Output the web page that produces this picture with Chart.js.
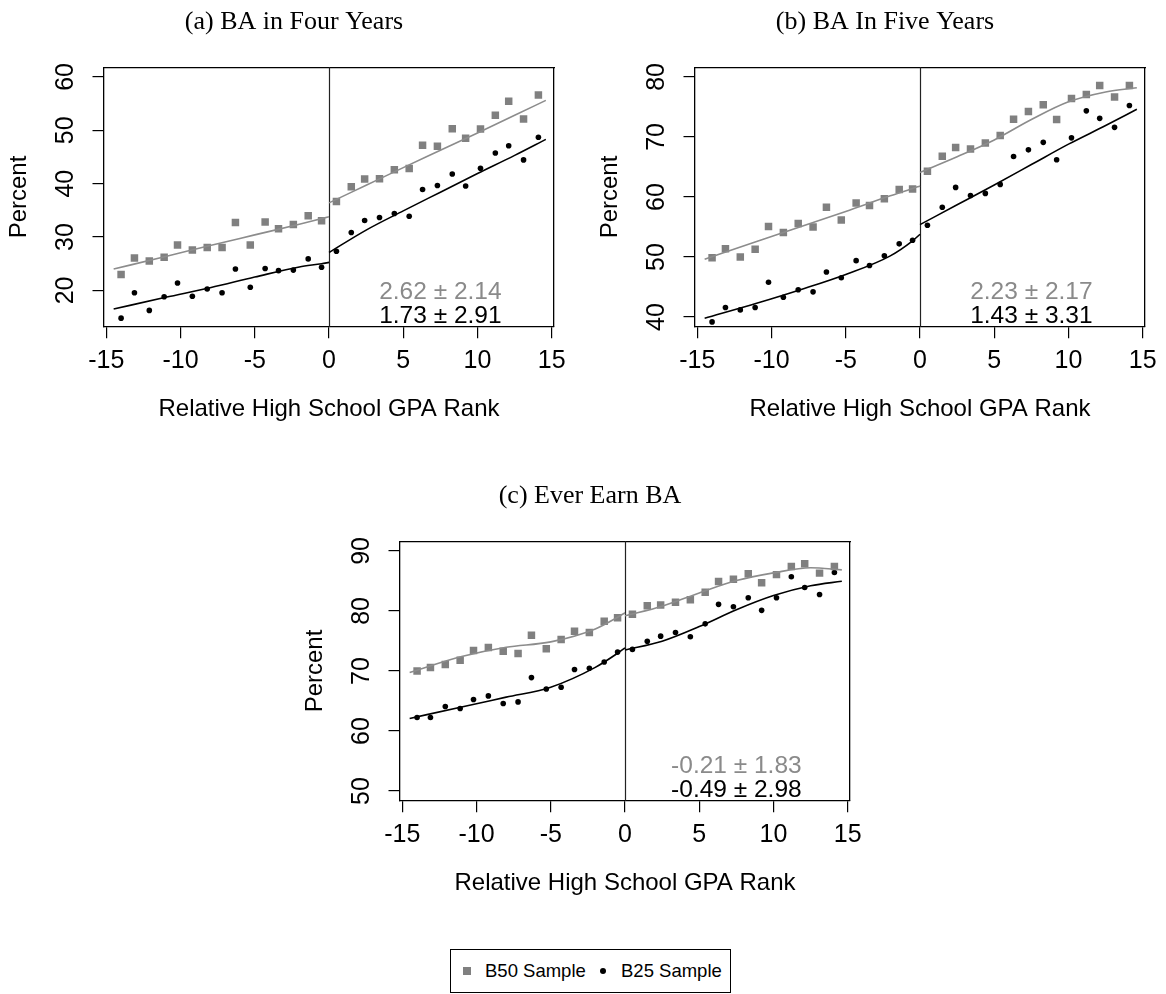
<!DOCTYPE html>
<html>
<head>
<meta charset="utf-8">
<title>BA completion by relative GPA rank</title>
<script src="https://cdn.jsdelivr.net/npm/chart.js@4.4.1/dist/chart.umd.min.js"></script>
<style>
  html, body { margin: 0; padding: 0; background: #fff; overflow: hidden; }
  body { width: 1166px; height: 994px; position: relative; }
  canvas { position: absolute; }
  #panelA { left: 0; top: 0; }
  #panelB { left: 591px; top: 0; }
  #panelC { left: 296px; top: 474px; }
  #legend {
    position: absolute; left: 450px; top: 949px; width: 281px; height: 44px;
    border: 1.3px solid #000; box-sizing: border-box;
    font: 18.5px 'Liberation Sans', Arial, sans-serif; color: #000;
  }
  #legend span { position: absolute; }
  #legend .txt { top: 0; line-height: 42px; white-space: nowrap; }
  #legend .sq { left: 12px; top: 17px; width: 8px; height: 8px; background: #808080; }
  #legend .dot { left: 149px; top: 18px; width: 6px; height: 6px; border-radius: 50%; background: #000; }
</style>
</head>
<body>
<canvas id="panelA" width="588" height="430"></canvas>
<canvas id="panelB" width="588" height="430"></canvas>
<canvas id="panelC" width="588" height="430"></canvas>
<div id="legend">
  <span class="sq"></span><span class="txt" style="left:34px">B50 Sample</span>
  <span class="dot"></span><span class="txt" style="left:170px">B25 Sample</span>
</div>
<script>
// ---- data ----
const binX = [-14.0, -13.1, -12.1, -11.1, -10.2, -9.2, -8.2, -7.2, -6.3, -5.3, -4.3, -3.4, -2.4, -1.4, -0.5,
              0.5, 1.5, 2.4, 3.4, 4.4, 5.4, 6.3, 7.3, 8.3, 9.2, 10.2, 11.2, 12.1, 13.1, 14.1];
const xTicks = [-15, -10, -5, 0, 5, 10, 15];
const fitLeftX = [-14.5, -11, -8, -5, -2, -0.5, 0];
const fitRightX = [0, 2.5, 5, 7.5, 10, 12.5, 14.6];

// (a) BA in four years
const fourYearTicks = [20, 30, 40, 50, 60];
const fourYearB50 = [23.0, 26.05, 25.5, 26.2, 28.5, 27.55, 28.05, 28.05, 32.7, 28.5, 32.8, 31.55, 32.35, 34.0, 33.05,
                     36.65, 39.4, 40.85, 40.9, 42.6, 42.85, 47.2, 47.0, 50.3, 48.5, 50.25, 52.8, 55.45, 52.1, 56.6];
const fourYearB25 = [14.8, 19.55, 16.25, 18.8, 21.4, 18.9, 20.25, 19.55, 24.0, 20.6, 24.1, 23.7, 23.8, 25.9, 24.35,
                     27.35, 30.85, 33.1, 33.65, 34.4, 33.9, 38.9, 39.65, 41.8, 39.55, 42.9, 45.75, 47.1, 44.45, 48.7];
const fourYearFitB50Left = [24.0, 26.35, 28.4, 30.4, 32.4, 33.45, 33.8];
const fourYearFitB50Right = [36.4, 39.7, 43.0, 46.25, 49.5, 52.8, 55.6];
const fourYearFitB25Left = [16.5, 18.7, 20.5, 22.5, 24.4, 25.0, 25.25];
const fourYearFitB25Right = [27.1, 31.3, 34.9, 38.4, 41.9, 45.3, 48.3];
const fourYearEstimates = ['2.62 ± 2.14', '1.73 ± 2.91'];

// (b) BA in five years
const fiveYearTicks = [40, 50, 60, 70, 80];
const fiveYearB50 = [49.9, 51.4, 50.0, 51.3, 55.1, 54.1, 55.6, 55.0, 58.3, 56.15, 59.0, 58.6, 59.7, 61.25, 61.35,
                     64.3, 66.8, 68.25, 68.0, 69.0, 70.25, 72.95, 74.25, 75.35, 72.9, 76.4, 77.05, 78.55, 76.65, 78.55];
const fiveYearB25 = [39.2, 41.6, 41.2, 41.6, 45.8, 43.3, 44.55, 44.2, 47.5, 46.55, 49.4, 48.6, 50.2, 52.2, 52.8,
                     55.3, 58.3, 61.6, 60.25, 60.6, 62.1, 66.75, 67.85, 69.1, 66.2, 69.85, 74.35, 73.1, 71.6, 75.25];
const fiveYearFitB50Left = [49.65, 52.6, 55.1, 57.6, 60.2, 61.4, 61.85];
const fiveYearFitB50Right = [64.1, 66.7, 69.5, 72.9, 75.85, 77.5, 78.2];
const fiveYearFitB25Left = [39.8, 42.3, 44.6, 47.1, 50.2, 52.7, 53.8];
const fiveYearFitB25Right = [55.4, 58.7, 62.0, 65.4, 68.8, 71.9, 74.6];
const fiveYearEstimates = ['2.23 ± 2.17', '1.43 ± 3.31'];

// (c) ever earn BA
const everTicks = [50, 60, 70, 80, 90];
const everB50 = [70.0, 70.6, 71.1, 71.8, 73.4, 73.9, 73.3, 72.9, 75.95, 73.7, 75.25, 76.6, 76.4, 78.3, 78.85,
                 79.45, 80.85, 81.0, 81.45, 81.85, 83.1, 84.9, 85.3, 86.2, 84.7, 86.05, 87.4, 87.85, 86.3, 87.4];
const everB25 = [62.25, 62.25, 64.1, 63.75, 65.25, 65.85, 64.6, 64.85, 68.9, 67.0, 67.3, 70.25, 70.45, 71.5, 73.15,
                 73.6, 74.95, 75.8, 76.4, 75.7, 77.85, 81.1, 80.7, 82.2, 80.1, 82.2, 85.7, 83.9, 82.75, 86.4];
const everFitB50Left = [69.75, 72.4, 73.96, 74.85, 77.0, 78.95, 79.7];
const everFitB50Right = [79.2, 80.8, 83.0, 85.06, 86.34, 87.2, 86.84];
const everFitB25Left = [62.1, 64.0, 65.65, 67.3, 70.6, 72.95, 73.85];
const everFitB25Right = [73.5, 74.96, 77.4, 80.2, 82.56, 84.2, 84.95];
const everEstimates = ['-0.21 ± 1.83', '-0.49 ± 2.98'];

// ---- styling ----
const GRAY = '#808080';
const GRAY_LINE = '#8c8c8c';
const GRAY_TEXT = '#8a8a8a';
const SANS = "'Liberation Sans', Arial, sans-serif";
const SERIF = "'Liberation Serif', 'Times New Roman', serif";

Chart.defaults.font.family = SANS;
Chart.defaults.color = '#000';

const pts = (xs, ys) => xs.map((x, i) => ({ x, y: ys[i] }));

// vertical line at the cutoff
const cutoffLine = {
  id: 'cutoffLine',
  beforeDatasetsDraw(chart) {
    const { ctx, chartArea, scales } = chart;
    const x = Math.round(scales.x.getPixelForValue(0)) + 0.5;
    ctx.save();
    ctx.strokeStyle = '#222';
    ctx.lineWidth = 1.2;
    ctx.beginPath();
    ctx.moveTo(x, chartArea.top);
    ctx.lineTo(x, chartArea.bottom);
    ctx.stroke();
    ctx.restore();
  },
};

// discontinuity estimates in the lower right corner
const estimateText = {
  id: 'estimateText',
  afterDraw(chart, args, opts) {
    const { ctx, chartArea, scales } = chart;
    const x = scales.x.getPixelForValue(opts.at);
    ctx.save();
    ctx.font = `24.5px ${SANS}`;
    ctx.textAlign = 'center';
    ctx.textBaseline = 'alphabetic';
    ctx.fillStyle = GRAY_TEXT;
    ctx.fillText(opts.lines[0], x, chartArea.bottom - 27.6);
    ctx.fillStyle = '#000';
    ctx.fillText(opts.lines[1], x, chartArea.bottom - 3.5);
    ctx.restore();
  },
};

function fitLine(xs, ys, color) {
  return {
    data: pts(xs, ys),
    showLine: true,
    borderColor: color,
    borderWidth: 1.6,
    pointRadius: 0,
    cubicInterpolationMode: 'monotone',
    fill: false,
  };
}

const axisLine = { display: true, color: '#000', width: 1.3 };
const tickMarks = { drawOnChartArea: false, drawTicks: true, tickLength: 11.5, color: '#000', lineWidth: 1.2 };

function makePanel(id, title, yMin, yMax, yTicks, b50, b25, fits, estimates) {
  return new Chart(document.getElementById(id), {
    type: 'scatter',
    data: {
      datasets: [
        fitLine(fitLeftX, fits[0], GRAY_LINE),
        fitLine(fitRightX, fits[1], GRAY_LINE),
        fitLine(fitLeftX, fits[2], '#000'),
        fitLine(fitRightX, fits[3], '#000'),
        { label: 'B50 Sample', data: pts(binX, b50), pointStyle: 'rect', pointRadius: 5.3,
          backgroundColor: GRAY, borderWidth: 0 },
        { label: 'B25 Sample', data: pts(binX, b25), pointStyle: 'circle', pointRadius: 2.8,
          backgroundColor: '#000', borderWidth: 0 },
      ],
    },
    options: {
      responsive: false,
      devicePixelRatio: 1,
      animation: false,
      layout: { padding: 0 },
      scales: {
        x: {
          type: 'linear', position: 'bottom', min: -15.15, max: 15.15,
          afterBuildTicks: (s) => { s.ticks = xTicks.map((v) => ({ value: v })); },
          afterFit: (s) => { s.height = 103.3; },
          ticks: { font: { size: 25 }, color: '#000', padding: 8.2, maxRotation: 0, autoSkip: false,
                   callback: (v) => String(v) },
          grid: tickMarks,
          border: axisLine,
          title: { display: true, text: 'Relative High School GPA Rank', font: { size: 24 }, color: '#000',
                   padding: { top: 0, bottom: 6.6 } },
        },
        y: {
          type: 'linear', position: 'left', min: yMin, max: yMax,
          afterBuildTicks: (s) => { s.ticks = yTicks.map((v) => ({ value: v })); },
          afterFit: (s) => { s.width = 104; },
          ticks: { font: { size: 25 }, color: '#000', padding: 12.6, minRotation: 90, maxRotation: 90,
                   crossAlign: 'center', autoSkip: false, callback: (v) => String(v) },
          grid: tickMarks,
          border: axisLine,
          title: { display: true, text: 'Percent', font: { size: 24 }, color: '#000',
                   padding: { top: 5.2, bottom: 0 } },
        },
        // top and right frame of the box
        xTop: {
          type: 'linear', axis: 'x', position: 'top', min: 0, max: 1,
          afterFit: (s) => { s.height = 0; },
          ticks: { display: false }, grid: { display: false, drawTicks: false }, border: axisLine,
        },
        yRight: {
          type: 'linear', axis: 'y', position: 'right', min: 0, max: 1,
          afterFit: (s) => { s.width = 34; },
          ticks: { display: false }, grid: { display: false, drawTicks: false }, border: axisLine,
        },
      },
      plugins: {
        legend: { display: false },
        tooltip: { enabled: false },
        title: {
          display: true, text: title, color: '#000',
          font: { family: SERIF, size: 26, weight: 'normal' },
          padding: { top: 6.1, bottom: 30 },
        },
        estimateText: { at: 7.5, lines: estimates },
      },
    },
    plugins: [cutoffLine, estimateText],
  });
}

makePanel('panelA', '(a) BA in Four Years', 13.2, 61.8, fourYearTicks, fourYearB50, fourYearB25,
  [fourYearFitB50Left, fourYearFitB50Right, fourYearFitB25Left, fourYearFitB25Right], fourYearEstimates);
makePanel('panelB', '(b) BA In Five Years', 38.4, 81.6, fiveYearTicks, fiveYearB50, fiveYearB25,
  [fiveYearFitB50Left, fiveYearFitB50Right, fiveYearFitB25Left, fiveYearFitB25Right], fiveYearEstimates);
makePanel('panelC', '(c) Ever Earn BA', 48.4, 91.6, everTicks, everB50, everB25,
  [everFitB50Left, everFitB50Right, everFitB25Left, everFitB25Right], everEstimates);
</script>
</body>
</html>
